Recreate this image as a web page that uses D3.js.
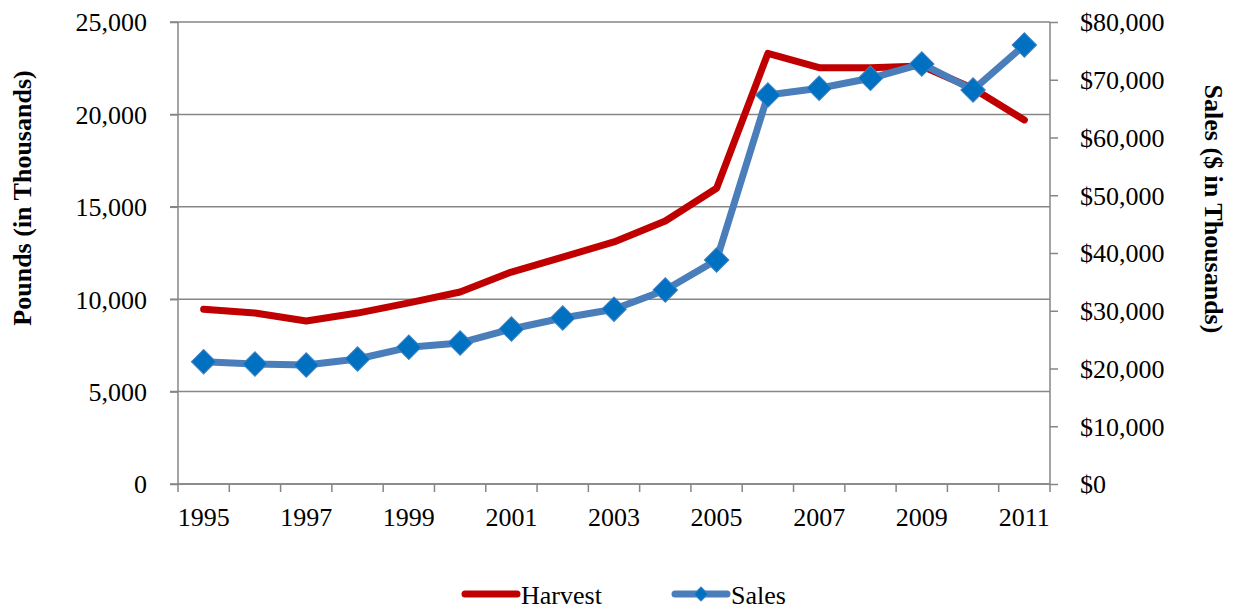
<!DOCTYPE html>
<html>
<head>
<meta charset="utf-8">
<script src="https://cdn.jsdelivr.net/npm/d3@7"></script>
<style>
  body { margin: 0; background: #fff; }
  svg text { font-family: "Liberation Serif", "Times New Roman", serif; fill: #000; }
</style>
</head>
<body>
<div id="chart"></div>
<script>
var years = ["1995","1996","1997","1998","1999","2000","2001","2002","2003","2004","2005","2006","2007","2008","2009","2010","2011"];
var harvest = [9450, 9250, 8820, 9250, 9800, 10390, 11470, 12280, 13100, 14230, 16000, 23300, 22530, 22530, 22620, 21400, 19700];
var sales = [21180, 20780, 20600, 21650, 23670, 24420, 26840, 28750, 30250, 33590, 38790, 67360, 68520, 70250, 72730, 68230, 76020];
var leftTicks = [0, 5000, 10000, 15000, 20000, 25000];
var rightTicks = [0, 10000, 20000, 30000, 40000, 50000, 60000, 70000, 80000];
var yearLabels = ["1995","1997","1999","2001","2003","2005","2007","2009","2011"];

var width = 1233, height = 609;
var plotLeft = 178, plotRight = 1050, plotTop = 22, plotBottom = 484;
var axisColor = "#868686";

var svg = d3.select("#chart")
    .append("svg")
    .attr("width", width)
    .attr("height", height);

var x = d3.scaleBand().domain(years).range([plotLeft, plotRight]).padding(0);
var yL = d3.scaleLinear().domain([0, 25000]).range([plotBottom, plotTop]);
var yR = d3.scaleLinear().domain([0, 80000]).range([plotBottom, plotTop]);
var cx = function(d) { return x(d) + x.bandwidth() / 2; };

// gridlines
svg.append("g")
    .selectAll("line")
    .data(leftTicks)
    .enter()
    .append("line")
    .attr("x1", plotLeft - 8)
    .attr("x2", plotRight)
    .attr("y1", function(d) { return yL(d); })
    .attr("y2", function(d) { return yL(d); })
    .attr("stroke", axisColor)
    .attr("stroke-width", 1.5);

// left axis
var gl = svg.append("g")
    .attr("transform", "translate(" + plotLeft + ",0)")
    .call(d3.axisLeft(yL).tickValues(leftTicks).tickSize(8).tickPadding(23).tickFormat(d3.format(",")));
gl.select(".domain").remove();
gl.append("line").attr("y1", plotTop).attr("y2", plotBottom).attr("stroke", axisColor).attr("stroke-width", 1.5);
gl.selectAll(".tick line").attr("stroke", axisColor).attr("stroke-width", 1.5);
gl.selectAll(".tick text").attr("font-size", 26).attr("dy", "0.34em")
    .style("font-family", "'Liberation Serif', serif");

// right axis
var gr = svg.append("g")
    .attr("transform", "translate(" + plotRight + ",0)")
    .call(d3.axisRight(yR).tickValues(rightTicks).tickSize(8).tickPadding(22)
        .tickFormat(function(d) { return "$" + d3.format(",")(d); }));
gr.select(".domain").remove();
gr.append("line").attr("y1", plotTop).attr("y2", plotBottom).attr("stroke", axisColor).attr("stroke-width", 1.5);
gr.selectAll(".tick line").attr("stroke", axisColor).attr("stroke-width", 1.5);
gr.selectAll(".tick text").attr("font-size", 26).attr("dy", "0.34em")
    .style("font-family", "'Liberation Serif', serif");

// x axis
svg.append("line")
    .attr("x1", plotLeft).attr("x2", plotRight)
    .attr("y1", plotBottom).attr("y2", plotBottom)
    .attr("stroke", axisColor).attr("stroke-width", 1.5);
var bounds = years.map(function(d) { return x(d); }).concat([plotRight]);
svg.append("g")
    .selectAll("line")
    .data(bounds)
    .enter()
    .append("line")
    .attr("x1", function(d) { return d; })
    .attr("x2", function(d) { return d; })
    .attr("y1", plotBottom)
    .attr("y2", plotBottom + 8)
    .attr("stroke", axisColor)
    .attr("stroke-width", 1.5);
svg.append("g")
    .selectAll("text")
    .data(yearLabels)
    .enter()
    .append("text")
    .attr("x", function(d) { return cx(d); })
    .attr("y", 526)
    .attr("text-anchor", "middle")
    .attr("font-size", 26)
    .text(function(d) { return d; });

// axis titles
svg.append("text")
    .attr("transform", "translate(31,198) rotate(-90)")
    .attr("text-anchor", "middle")
    .attr("font-size", 26)
    .attr("font-weight", "bold")
    .text("Pounds (in Thousands)");
svg.append("text")
    .attr("transform", "translate(1205,209) rotate(90)")
    .attr("text-anchor", "middle")
    .attr("font-size", 26)
    .attr("font-weight", "bold")
    .text("Sales ($ in Thousands)");

// harvest line
var harvestLine = d3.line()
    .x(function(d, i) { return cx(years[i]); })
    .y(function(d) { return yL(d); });
svg.append("path")
    .datum(harvest)
    .attr("d", harvestLine)
    .attr("fill", "none")
    .attr("stroke", "#C00000")
    .attr("stroke-width", 7)
    .attr("stroke-linejoin", "round")
    .attr("stroke-linecap", "round");

// sales line
var salesLine = d3.line()
    .x(function(d, i) { return cx(years[i]); })
    .y(function(d) { return yR(d); });
svg.append("path")
    .datum(sales)
    .attr("d", salesLine)
    .attr("fill", "none")
    .attr("stroke", "#4A7EBB")
    .attr("stroke-width", 7)
    .attr("stroke-linejoin", "round")
    .attr("stroke-linecap", "round");

var diamond = d3.symbol().type(d3.symbolSquare).size(300);
svg.append("g")
    .selectAll("path")
    .data(sales)
    .enter()
    .append("path")
    .attr("d", diamond)
    .attr("transform", function(d, i) { return "translate(" + cx(years[i]) + "," + yR(d) + ") rotate(45)"; })
    .attr("fill", "#0070C0")
    .attr("stroke", "#3F80C4")
    .attr("stroke-width", 1);

// legend
var legend = svg.append("g");
legend.append("line")
    .attr("x1", 465).attr("x2", 517).attr("y1", 594).attr("y2", 594)
    .attr("stroke", "#C00000").attr("stroke-width", 7).attr("stroke-linecap", "round");
legend.append("text")
    .attr("x", 521).attr("y", 604)
    .attr("font-size", 26)
    .text("Harvest");
legend.append("line")
    .attr("x1", 675).attr("x2", 727).attr("y1", 594).attr("y2", 594)
    .attr("stroke", "#4A7EBB").attr("stroke-width", 7).attr("stroke-linecap", "round");
legend.append("path")
    .attr("d", d3.symbol().type(d3.symbolSquare).size(98))
    .attr("transform", "translate(701,594) rotate(45)")
    .attr("fill", "#0070C0")
    .attr("stroke", "#3F80C4")
    .attr("stroke-width", 1);
legend.append("text")
    .attr("x", 731).attr("y", 604)
    .attr("font-size", 26)
    .text("Sales");
</script>
</body>
</html>
